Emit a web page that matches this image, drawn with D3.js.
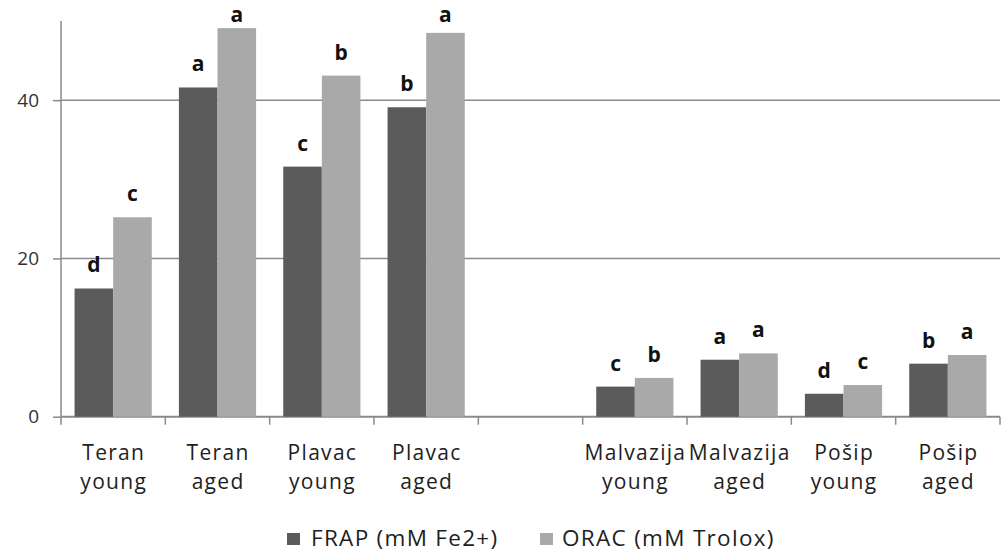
<!DOCTYPE html>
<html>
<head>
<meta charset="utf-8">
<script src="https://cdn.jsdelivr.net/npm/d3@7"></script>
<style>
  html, body { margin: 0; padding: 0; background: #fff; }
  svg { display: block; }
  text { font-family: "Open Sans", Lato, sans-serif; }
</style>
</head>
<body>
<svg id="chart" width="1001" height="552"></svg>
<script>
// ---- data ----
const categories = ["Teran young", "Teran aged", "Plavac young", "Plavac aged", "",
                    "Malvazija young", "Malvazija aged", "Pošip young", "Pošip aged"];
const seriesNames = ["FRAP (mM Fe2+)", "ORAC (mM Trolox)"];
const frapValues = [16.2, 41.6, 31.6, 39.1, null, 3.8, 7.2, 2.9, 6.7];
const oracValues = [25.2, 49.1, 43.1, 48.5, null, 4.9, 8.0, 4.0, 7.8];
const frapLetters = ["d", "a", "c", "b", "", "c", "a", "d", "b"];
const oracLetters = ["c", "a", "b", "a", "", "b", "a", "c", "a"];
const yTicks = [0, 20, 40];

// ---- layout ----
const svg = d3.select("#chart");
const mLeft = 61, mRight = 1000, mTop = 21, mBottom = 416.7;
const colors = ["#5b5b5b", "#a9a9a9"];
const axisColor = "#8a8a8a";

const keys = categories.map((c, i) => "k" + i);
const x = d3.scaleBand().domain(keys).range([mLeft, mRight]).paddingInner(0).paddingOuter(0);
const x1 = d3.scaleBand().domain(seriesNames).range([x.bandwidth() * 0.13, x.bandwidth() * 0.87]).padding(0);
const y = d3.scaleLinear().domain([0, 50]).range([mBottom, mTop]);

// gridlines
svg.append("g").selectAll("line").data(yTicks.filter(d => d > 0)).join("line")
  .attr("x1", mLeft).attr("x2", mRight)
  .attr("y1", d => y(d)).attr("y2", d => y(d))
  .attr("stroke", axisColor).attr("stroke-width", 1.5);

// y axis
const yAxis = d3.axisLeft(y).tickValues(yTicks).tickSize(8).tickPadding(14).tickFormat(d3.format("d"));
const gy = svg.append("g").attr("transform", `translate(${mLeft},0)`).call(yAxis);
gy.select(".domain").attr("stroke", axisColor).attr("stroke-width", 1.5).attr("d", `M0,${mTop}V${mBottom}`);
gy.selectAll(".tick line").attr("stroke", axisColor).attr("stroke-width", 1.5);
gy.selectAll(".tick text").attr("fill", "#333").attr("font-size", 19).attr("font-family", "Open Sans, sans-serif");

// x axis line and boundary ticks
svg.append("line").attr("x1", mLeft).attr("x2", mRight).attr("y1", mBottom).attr("y2", mBottom)
  .attr("stroke", axisColor).attr("stroke-width", 2);
const bounds = keys.map(k => x(k)).concat([mRight]);
svg.append("g").selectAll("line").data(bounds).join("line")
  .attr("x1", d => d).attr("x2", d => d).attr("y1", mBottom).attr("y2", mBottom + 8)
  .attr("stroke", axisColor).attr("stroke-width", 1.5);

// category labels
const labG = svg.append("g").attr("font-size", 21).attr("fill", "#1e1e1e")
  .attr("text-anchor", "middle").attr("letter-spacing", 1.3);
categories.forEach((c, i) => {
  if (!c) return;
  const parts = c.split(" ");
  const cx = x(keys[i]) + x.bandwidth() / 2 + 0.6;
  const t = labG.append("text").attr("x", cx).attr("y", 460);
  parts.forEach((p, j) => t.append("tspan").attr("x", cx).attr("y", 460 + j * 29).text(p));
});

// bars
const seriesData = [frapValues, oracValues];
const letterData = [frapLetters, oracLetters];
seriesData.forEach((vals, s) => {
  const g = svg.append("g");
  g.selectAll("rect").data(vals.map((v, i) => ({v, i})).filter(d => d.v != null)).join("rect")
    .attr("x", d => x(keys[d.i]) + x1(seriesNames[s]))
    .attr("width", x1.bandwidth())
    .attr("y", d => y(d.v))
    .attr("height", d => y(0) - y(d.v))
    .attr("fill", colors[s]);
  g.selectAll("text").data(vals.map((v, i) => ({v, i, l: letterData[s][i]})).filter(d => d.v != null)).join("text")
    .attr("x", d => x(keys[d.i]) + x1(seriesNames[s]) + x1.bandwidth() / 2)
    .attr("y", d => Math.max(y(d.v) - 16, 22))
    .attr("text-anchor", "middle")
    .attr("font-size", 21).attr("font-weight", "bold").attr("fill", "#111")
    .text(d => d.l);
});

// legend
const legend = svg.append("g").attr("font-size", 22.5).attr("fill", "#1e1e1e").attr("letter-spacing", 1.3);
const legendX = [287, 540];
const legendTextX = [311, 562];
seriesNames.forEach((n, s) => {
  legend.append("rect").attr("x", legendX[s]).attr("y", 533).attr("width", 13).attr("height", 12).attr("fill", colors[s]);
  legend.append("text").attr("x", legendTextX[s]).attr("y", 546).text(n);
});
</script>
</body>
</html>
